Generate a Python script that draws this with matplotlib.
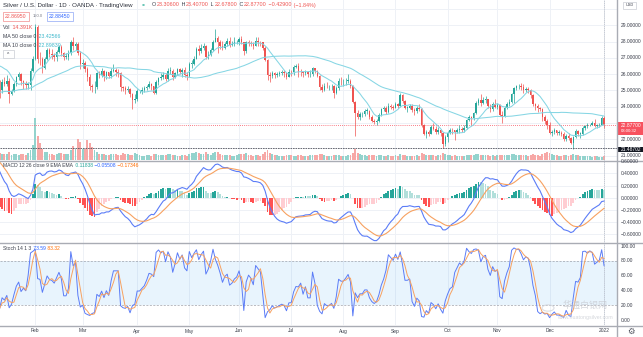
import numpy as np
import pandas as pd
import matplotlib
matplotlib.use("Agg")
import matplotlib.pyplot as plt
from matplotlib.lines import Line2D
from matplotlib.patches import Rectangle, Circle

plt.rcParams['font.family'] = ['Liberation Sans', 'Noto Sans CJK SC', 'DejaVu Sans']

W, H = 643, 337

# daily XAG/USD bars, 2021-01-11 .. 2022-01-03
warmup_close = [
    24.20, 24.40, 23.90, 25.30, 25.60, 24.00, 24.20, 24.10, 24.20, 24.70,
    24.80, 24.70, 24.30, 23.80, 24.20, 23.60, 23.30, 23.40, 23.20, 22.60,
    22.60, 24.10, 24.30, 24.40, 24.10, 24.50, 24.40, 23.90, 24.10, 23.90,
    24.00, 24.60, 24.90, 26.00, 25.80, 26.00, 25.60, 25.60, 25.90, 25.90,
    26.20, 26.20, 26.40, 26.40, 26.40, 27.40, 27.70, 27.10, 27.10, 25.25,
]

close = [
    25.05, 25.50, 25.40, 25.60, 24.78, 24.95, 25.40, 25.80, 26.00, 25.55, 25.45, 25.35, 25.35, 26.20, 26.90,
    28.90, 26.95, 26.90, 26.35, 26.95, 27.45, 27.25, 27.20, 27.05, 27.35, 27.65, 27.30, 27.05, 27.05, 27.30,
    27.95, 27.70, 27.85, 27.30, 26.65, 26.70, 26.30, 25.80, 25.25, 25.20, 25.20, 26.05, 25.95, 26.20, 25.90,
    26.10, 25.90, 26.20, 26.25, 26.15, 26.05, 25.20, 25.15, 25.05, 25.10, 24.80, 24.40, 24.45, 24.95, 24.95,
    25.05, 25.15, 25.20, 25.40, 25.25, 24.85, 25.50, 25.75, 25.85, 25.95, 25.70, 26.20, 26.20, 25.85, 26.05,
    26.30, 26.15, 26.25, 25.95, 25.90, 26.65, 26.65, 26.95, 27.55, 27.40, 27.60, 27.75, 27.05, 27.20, 27.45,
    28.00, 28.20, 27.95, 27.70, 27.60, 27.85, 28.05, 27.80, 27.85, 27.95, 28.00, 28.15, 27.95, 27.40, 28.00,
    27.90, 27.85, 27.75, 28.05, 28.00, 27.95, 27.60, 26.85, 25.95, 25.90, 26.05, 25.95, 26.00, 26.05, 26.10,
    26.05, 25.85, 26.15, 26.10, 26.45, 26.50, 26.15, 26.10, 26.05, 26.15, 26.00, 26.00, 26.35, 26.20, 25.90,
    25.20, 25.05, 25.30, 25.25, 25.25, 25.25, 24.85, 25.15, 25.60, 25.55, 25.55, 25.60, 25.60, 25.30, 24.30,
    23.60, 23.35, 23.55, 23.55, 23.75, 23.75, 23.35, 23.15, 23.05, 23.15, 23.50, 23.85, 23.95, 23.65, 24.05,
    24.00, 23.95, 24.15, 24.05, 24.70, 24.35, 23.95, 23.95, 24.05, 23.80, 23.75, 23.90, 23.85, 22.85, 22.35,
    22.45, 22.35, 22.75, 22.65, 22.45, 22.55, 22.40, 21.70, 22.15, 22.40, 22.60, 22.55, 22.45, 22.55, 22.65,
    22.60, 22.70, 23.20, 23.35, 23.30, 23.60, 24.25, 24.40, 24.20, 24.40, 24.45, 24.05, 23.85, 24.15, 24.00,
    24.10, 23.50, 23.45, 23.95, 24.15, 24.30, 24.75, 25.15, 25.25, 25.30, 25.20, 25.00, 25.10, 25.05, 24.70,
    24.15, 24.05, 23.90, 23.85, 23.35, 23.15, 22.90, 22.40, 22.45, 22.55, 22.40, 22.40, 22.35, 22.00, 22.20,
    22.05, 21.80, 22.15, 22.50, 22.35, 22.35, 22.70, 22.80, 22.85, 22.90, 23.00, 22.80, 22.85, 22.90, 23.306, 22.877,
]

high = [
    25.65, 25.70, 25.85, 25.95, 25.75, 25.10, 25.50, 25.90, 26.10, 26.05, 25.65, 25.60, 25.50, 26.40, 27.10,
    29.10, 29.00, 27.35, 27.05, 27.05, 27.60, 27.60, 27.55, 27.30, 27.45, 27.80, 27.80, 27.35, 27.30, 27.45,
    28.10, 28.30, 28.00, 28.00, 27.40, 26.95, 26.80, 26.45, 26.00, 25.40, 25.60, 26.15, 26.20, 26.40, 26.25,
    26.20, 26.15, 26.40, 26.65, 26.35, 26.30, 26.10, 25.30, 25.25, 25.25, 25.15, 24.85, 24.75, 25.10, 25.00,
    25.20, 25.25, 25.35, 25.55, 25.45, 25.30, 25.65, 25.85, 26.05, 26.10, 26.05, 26.35, 26.45, 26.30, 26.15,
    26.40, 26.40, 26.40, 26.45, 26.10, 26.75, 26.85, 27.10, 27.65, 27.80, 27.85, 27.90, 27.80, 27.40, 27.60,
    28.10, 28.75, 28.35, 28.10, 28.05, 27.95, 28.20, 28.25, 28.05, 28.30, 28.10, 28.30, 28.35, 28.00, 28.05,
    28.10, 28.05, 28.00, 28.25, 28.30, 28.05, 28.00, 27.70, 26.95, 26.10, 26.20, 26.15, 26.15, 26.20, 26.25,
    26.25, 26.10, 26.30, 26.25, 26.55, 26.65, 26.70, 26.30, 26.20, 26.25, 26.20, 26.25, 26.45, 26.40, 26.25,
    25.95, 25.40, 25.45, 25.50, 25.35, 25.40, 25.35, 25.25, 25.75, 25.85, 25.70, 25.75, 26.00, 25.70, 25.35,
    24.35, 23.80, 23.65, 23.70, 23.85, 23.95, 23.80, 23.50, 23.25, 23.25, 23.60, 23.95, 24.05, 24.05, 24.20,
    24.15, 24.10, 24.30, 24.20, 24.85, 24.75, 24.40, 24.05, 24.15, 24.15, 23.90, 24.05, 24.15, 23.90, 22.95,
    22.55, 22.60, 22.85, 23.00, 22.80, 22.75, 22.65, 22.45, 22.25, 22.50, 22.70, 22.70, 22.60, 22.70, 22.90,
    22.75, 22.85, 23.25, 23.50, 23.45, 23.70, 24.35, 24.55, 24.80, 24.60, 24.65, 24.50, 24.15, 24.30, 24.45,
    24.20, 24.15, 23.75, 24.05, 24.30, 24.45, 24.85, 25.20, 25.35, 25.40, 25.45, 25.40, 25.20, 25.20, 25.10,
    24.80, 24.20, 24.15, 24.00, 23.90, 23.50, 23.25, 23.05, 22.60, 22.70, 22.60, 22.55, 22.50, 22.45, 22.30,
    22.40, 22.15, 22.20, 22.65, 22.60, 22.45, 22.80, 22.90, 23.00, 22.95, 23.15, 23.25, 22.95, 23.00, 23.40, 23.407,
]

low = [
    24.55, 24.85, 25.25, 25.25, 24.20, 24.70, 24.90, 25.30, 25.65, 25.35, 25.10, 25.10, 25.10, 25.00, 26.10,
    26.85, 26.70, 26.55, 26.05, 26.30, 26.85, 27.05, 26.95, 26.80, 26.80, 27.30, 27.10, 26.85, 26.90, 26.85,
    27.20, 27.50, 27.45, 27.20, 26.30, 26.40, 26.10, 25.60, 25.05, 24.90, 24.85, 25.10, 25.75, 25.85, 25.55,
    25.70, 25.75, 25.75, 26.10, 25.90, 25.85, 24.95, 24.95, 24.75, 24.90, 24.60, 23.85, 24.20, 24.35, 24.85,
    24.80, 24.90, 25.00, 25.15, 25.05, 24.75, 24.80, 25.35, 25.65, 25.70, 25.55, 25.60, 26.00, 25.65, 25.75,
    25.95, 26.00, 25.85, 25.80, 25.65, 25.85, 26.40, 26.55, 26.90, 27.20, 27.30, 27.45, 26.95, 26.95, 27.10,
    27.40, 27.95, 27.30, 27.55, 27.50, 27.55, 27.75, 27.65, 27.70, 27.70, 27.85, 27.80, 27.85, 27.20, 27.30,
    27.70, 27.70, 27.55, 27.70, 27.75, 27.70, 27.45, 26.80, 25.65, 25.50, 25.75, 25.75, 25.80, 25.90, 25.95,
    25.85, 25.70, 25.80, 25.90, 25.95, 26.35, 25.85, 25.90, 25.80, 25.95, 25.85, 25.80, 25.90, 26.05, 25.80,
    25.00, 24.90, 24.95, 25.15, 25.05, 25.00, 24.55, 24.75, 25.05, 25.35, 25.30, 25.35, 25.45, 25.15, 24.20,
    22.20, 23.25, 23.20, 23.35, 23.45, 23.55, 23.25, 23.05, 22.95, 22.90, 23.05, 23.45, 23.75, 23.55, 23.60,
    23.85, 23.80, 23.90, 23.90, 24.00, 24.25, 23.85, 23.70, 23.85, 23.70, 23.50, 23.60, 23.75, 22.75, 22.25,
    22.10, 22.20, 22.30, 22.55, 22.35, 22.35, 22.20, 21.45, 21.60, 21.85, 22.30, 22.35, 21.95, 22.40, 22.40,
    22.45, 22.45, 22.65, 23.10, 22.90, 23.20, 23.55, 24.10, 24.05, 24.15, 24.25, 23.95, 23.70, 23.75, 23.90,
    23.85, 23.40, 23.00, 23.35, 23.85, 24.05, 24.25, 24.20, 25.00, 25.10, 25.00, 24.85, 24.90, 24.85, 24.55,
    24.05, 23.80, 23.70, 23.75, 23.10, 22.95, 22.65, 22.30, 22.20, 22.30, 22.25, 22.25, 22.20, 21.90, 21.90,
    21.95, 21.70, 21.40, 22.10, 22.20, 22.05, 22.25, 22.60, 22.70, 22.80, 22.85, 22.75, 22.70, 22.75, 22.85, 22.678,
]

volume_k = [
    24, 22, 20, 23, 28, 18, 20, 21, 19, 22, 20, 19, 24, 35, 55,
    150, 85, 60, 40, 30, 28, 22, 20, 19, 21, 26, 24, 22, 20, 23,
    35, 50, 40, 75, 65, 40, 38, 70, 60, 45, 35, 30, 22, 21, 20,
    19, 18, 22, 20, 21, 19, 18, 25, 21, 20, 18, 19, 26, 20, 19,
    16, 15, 17, 18, 16, 20, 22, 19, 18, 17, 18, 21, 20, 19, 17,
    16, 15, 17, 18, 16, 22, 24, 25, 30, 26, 23, 22, 28, 21, 19,
    24, 30, 27, 22, 19, 18, 17, 18, 16, 15, 17, 20, 22, 21, 24,
    19, 17, 16, 18, 17, 16, 20, 28, 35, 26, 22, 18, 17, 16, 15,
    16, 17, 18, 17, 16, 15, 18, 17, 16, 15, 16, 17, 18, 17, 18,
    22, 20, 17, 16, 15, 16, 18, 17, 19, 16, 15, 16, 17, 18, 24,
    40, 25, 20, 18, 17, 16, 17, 18, 17, 16, 17, 18, 16, 15, 17,
    16, 15, 17, 16, 21, 17, 18, 16, 15, 16, 16, 17, 16, 24, 22,
    18, 17, 18, 17, 16, 17, 18, 25, 21, 18, 17, 16, 17, 16, 15,
    16, 15, 19, 18, 17, 18, 22, 20, 18, 17, 18, 17, 16, 17, 16,
    17, 19, 18, 18, 17, 17, 21, 23, 18, 17, 18, 19, 17, 16, 18,
    20, 19, 17, 14, 22, 26, 28, 24, 20, 18, 17, 16, 16, 19, 17,
    16, 18, 22, 19, 17, 15, 16, 16, 14, 13, 10, 14, 13, 12, 12, 14.391,
]

price_ticks = [21, 22, 24, 25, 26, 27, 28, 29]
macd_ticks = [0.6, 0.4, 0.2, 0.0, -0.2, -0.4, -0.6]
stoch_ticks = [100, 80, 60, 40, 20, 0]

dates = pd.bdate_range('2021-01-11', '2022-01-03')
n = len(close)
xs = np.arange(n)
c = np.array(close)
hi = np.array(high)
lo = np.array(low)
o = np.r_[warmup_close[-1], c[:-1]]
up = c >= o

# indicators on warm-up + visible closes
full = pd.Series(warmup_close + close)
nw = len(warmup_close)
ma50 = full.rolling(50).mean().values[nw:]
ma10 = full.rolling(10).mean().values[nw:]
ema12 = full.ewm(span=12, adjust=False).mean()
ema26 = full.ewm(span=26, adjust=False).mean()
macd_full = ema12 - ema26
sig_full = macd_full.ewm(span=9, adjust=False).mean()
hist_full = (macd_full - sig_full).values
macd = macd_full.values[nw:]
sig = sig_full.values[nw:]
hist = hist_full[nw:]
hist_prev = hist_full[nw - 1:-1]

hh = pd.Series(warmup_close + high).rolling(14).max().values[nw:]
ll = pd.Series(warmup_close + low).rolling(14).min().values[nw:]
k_full = pd.Series(np.r_[np.full(nw, np.nan), 100 * (c - ll) / (hh - ll)])
stoch_k = k_full.values[nw:]
stoch_d = k_full.rolling(3, min_periods=1).mean().values[nw:]

UP, DN = '#26a69a', '#ef5350'
GRID = '#eef1f6'
SEP = '#a9acb4'
TXT = '#3a3e4a'


def box(x0, y0, x1, y1):
    return [x0 / W, 1 - y1 / H, (x1 - x0) / W, (y1 - y0) / H]


def fxy(x, y):
    return x / W, 1 - y / H


fig = plt.figure(figsize=(W / 100, H / 100), dpi=100)
fig.patch.set_facecolor('white')

PR = 617
XL = (0.3 / 2.37, (PR + 0.3) / 2.37)
ax_vol = fig.add_axes(box(0, 0, PR, 160))
ax = fig.add_axes(box(0, 0, PR, 160))
ax_macd = fig.add_axes(box(0, 160, PR, 242))
ax_st = fig.add_axes(box(0, 242, PR, 325))

# pixel <-> value mappings of each pane
py = lambda p: 155.6 - (p - 21) * 16.3
my = lambda v: 197.7 - v * 61
sy = lambda v: 320 - v * 0.7375

ax.set_ylim(21 - 4.4 / 16.3, 21 + 155.6 / 16.3)
ax_macd.set_ylim(-(242 - 197.7) / 61, (197.7 - 160) / 61)
ax_st.set_ylim(-(325 - 320) / 0.7375, (320 - 242) / 0.7375)
ax_vol.set_ylim(0, 570)

month_starts = [i for i in range(1, n) if dates[i].month != dates[i - 1].month]
month_names = [dates[i].strftime('%b') if dates[i].month != 1 else str(dates[i].year)
               for i in month_starts]

for a in (ax_vol, ax, ax_macd, ax_st):
    a.set_xlim(*XL)
    for s in a.spines.values():
        s.set_visible(False)
    a.set_xticks([])
    a.set_yticks([])
    a.patch.set_alpha(0)
ax_vol.patch.set_alpha(1)

for i in month_starts:
    ax_vol.axvline(i, color=GRID, lw=0.7, zorder=0)
    ax_macd.axvline(i, color=GRID, lw=0.7, zorder=0)
    ax_st.axvline(i, color=GRID, lw=0.7, zorder=0)
for p in range(21, 31):
    ax_vol.axhline((p - ax.get_ylim()[0]) / np.ptp(ax.get_ylim()) * 570, color=GRID, lw=0.7, zorder=0)
for v in macd_ticks:
    ax_macd.axhline(v, color=GRID, lw=0.7, zorder=0)

# volume overlay
vcol = np.where(up, '#93d3cd', '#f7a8a6')
ax_vol.bar(xs, volume_k, width=0.8, color=vcol, linewidth=0, zorder=1)

# candles
col = np.where(up, UP, DN)
ax.vlines(xs, lo, hi, colors=col, lw=0.5, zorder=3)
ax.bar(xs, np.maximum(np.abs(c - o), 0.03), bottom=np.minimum(o, c), width=0.62,
       color=col, linewidth=0, zorder=4)
ax.plot(xs, ma50, color='#86d6e4', lw=0.75, zorder=5)
ax.plot(xs, ma10, color='#86d6e4', lw=0.75, zorder=5)
ax.axhline(c[-1], color='#f7525f', lw=0.6, ls=(0, (1, 1.5)), zorder=2)
ax.axhline(21.48702, color='#50535e', lw=0.6, ls=(0, (2, 1)), zorder=6)

# MACD pane
hcol = np.where(hist >= 0,
                np.where(hist >= hist_prev, '#26a69a', '#b2dfdb'),
                np.where(hist < hist_prev, '#ff5252', '#ffcdd2'))
ax_macd.bar(xs, hist, width=0.75, color=hcol, linewidth=0, zorder=2)
ax_macd.plot(xs, macd, color='#5b7cf7', lw=0.8, zorder=3)
ax_macd.plot(xs, sig, color='#f7a160', lw=0.8, zorder=3)

# Stochastic pane
ax_st.axhspan(20, 80, color='#2196f3', alpha=0.1, lw=0, zorder=1)
for lvl in (80, 20):
    ax_st.axhline(lvl, color='#9ea1aa', lw=0.5, ls=(0, (3, 2)), zorder=2)
ax_st.plot(xs, stoch_k, color='#5b7cf7', lw=0.7, zorder=3)
ax_st.plot(xs, stoch_d, color='#f7a160', lw=0.7, zorder=3)

# crosshair vertical
for a in (ax, ax_macd, ax_st):
    a.axvline(n - 1, color='#b8bcc6', lw=0.5, ls=(0, (2, 1)), zorder=1)


def hline_px(y, x0=0, x1=W, color=SEP, lw=1.0):
    fig.add_artist(Line2D([x0 / W, x1 / W], [1 - y / H] * 2, color=color, lw=lw))


# pane separators
hline_px(160.5, 0, W)
hline_px(242.5, 0, W)
hline_px(325.5, 0, W)
fig.add_artist(Line2D([PR / W] * 2, [0, 1], color=SEP, lw=1.0))

FS_AX = 3.5
for p in price_ticks:
    fig.text(*fxy(621, py(p)), f'{p:.5f}', fontsize=FS_AX, color=TXT, va='center')
for v in macd_ticks:
    s = f'{v:.5f}'.replace('-', '\u2212')
    fig.text(*fxy(621, my(v) + 0.5), s, fontsize=FS_AX, color=TXT, va='center')
for v in stoch_ticks:
    fig.text(*fxy(621, sy(v)), f'{v:.2f}', fontsize=FS_AX, color=TXT, va='center')
for i, name in zip(month_starts, month_names):
    fig.text(*fxy(-0.3 + i * 2.37, 331), name, fontsize=FS_AX, color=TXT,
             ha='center', va='center')

# watermark in the lower right of the oscillator pane
fig.add_artist(Circle(fxy(548, 308), 6 / W, transform=fig.transFigure,
                      facecolor='none', edgecolor='#d3d6dc', lw=0.8, alpha=0.8))
fig.text(*fxy(585, 305), '华通白银网', fontsize=6.5, color='#c9ccd3', alpha=0.8,
         ha='center', va='center')
fig.text(*fxy(585, 317), 'www.huatongsilver.com', fontsize=3.8, color='#c9ccd3',
         alpha=0.8, ha='center', va='center')

# price scale labels
fig.add_artist(Rectangle(fxy(617, 134.5), 26 / W, 12.5 / H, transform=fig.transFigure,
                         facecolor='#f7525f', edgecolor='none'))
fig.text(*fxy(620.5, py(c[-1])), f'{c[-1]:.5f}', fontsize=FS_AX, color='white', va='center')
fig.text(*fxy(620.5, 131.5), '03:00:32', fontsize=3.1, color='white', va='center')
fig.add_artist(Rectangle(fxy(617, 152), 26 / W, 5.5 / H, transform=fig.transFigure,
                         facecolor='#131722', edgecolor='none'))
fig.text(*fxy(620.5, 149.2), '21.48702', fontsize=FS_AX, color='white', va='center')
fig.add_artist(Rectangle(fxy(623, 9), 13 / W, 7 / H, transform=fig.transFigure,
                         facecolor='white', edgecolor='#c9ccd3', lw=0.5))
fig.text(*fxy(629.5, 5.5), 'USD', fontsize=2.8, color=TXT, va='center', ha='center')
fig.text(*fxy(631, 331), '\u2699', fontsize=6, color='#50535e', va='center', ha='center',
         family='DejaVu Sans')

renderer = fig.canvas.get_renderer()


def text_row(x, y, parts, fs=3.8):
    for s, colr in parts:
        t = fig.text(*fxy(x, y), s, fontsize=fs, color=colr, va='center')
        x += t.get_window_extent(renderer).width + 0.5


RED = '#ef5350'
fig.text(*fxy(3, 5), 'Silver / U.S. Dollar \u00b7 1D \u00b7 OANDA \u00b7 TradingView',
         fontsize=4.4, color='#2a2e39', va='center')
fig.add_artist(Circle(fxy(143.5, 5), 1.3 / W, transform=fig.transFigure,
                      facecolor='#22ab94', edgecolor='none'))
chg = c[-1] - o[-1]
text_row(152, 5, [('O', TXT), (f'{o[-1]:.5f}', RED), (' H', TXT), (f'{hi[-1]:.5f}', RED),
                  (' L', TXT), (f'{lo[-1]:.5f}', RED), (' C', TXT), (f'{c[-1]:.5f}', RED),
                  (f' \u2212{abs(chg):.5f}', RED),
                  (f' (\u2212{abs(chg) / o[-1] * 100:.2f}%)', RED)], fs=3.9)

fig.add_artist(Rectangle(fxy(3, 20.5), 26 / W, 8.5 / H, transform=fig.transFigure,
                         facecolor='white', edgecolor='#f28c8c', lw=0.5))
fig.text(*fxy(16, 16.3), '22.86950', fontsize=3.7, color=RED, va='center', ha='center')
fig.text(*fxy(33, 16.3), '150.0', fontsize=3.0, color='#787b86', va='center')
fig.add_artist(Rectangle(fxy(47, 20.5), 26 / W, 8.5 / H, transform=fig.transFigure,
                         facecolor='white', edgecolor='#8ea6f5', lw=0.5))
fig.text(*fxy(60, 16.3), '22.88450', fontsize=3.7, color='#2962ff', va='center', ha='center')

text_row(3, 27.7, [('Vol', TXT), (' 14.391K', RED)])
text_row(3, 36.7, [('MA 50 close 0', TXT), (f' {ma50[-1]:.5f}', '#3fb8cc')])
text_row(3, 45.7, [('MA 10 close 0', TXT), (f' {ma10[-1]:.5f}', '#3fb8cc')])
fig.add_artist(Rectangle(fxy(3, 58), 11 / W, 8 / H, transform=fig.transFigure,
                         facecolor='white', edgecolor='#c9ccd3', lw=0.5))
fig.text(*fxy(8.5, 54.5), '^', fontsize=3.5, color=TXT, va='center', ha='center')

text_row(3, 165.5, [('MACD 12 26 close 9 EMA EMA', TXT), (f' {hist[-1]:.5f}', '#26a69a'),
                    (f' \u2212{abs(macd[-1]):.5f}', '#2962ff'),
                    (f' \u2212{abs(sig[-1]):.5f}', '#ff6d00')], fs=3.6)
text_row(3, 248.5, [('Stoch 14 1 3', TXT), (f' {stoch_k[-1]:.2f}', '#2962ff'),
                    (f' {stoch_d[-1]:.2f}', '#ff6d00')], fs=3.6)

fig.savefig('out.png', dpi=100, facecolor='white')
